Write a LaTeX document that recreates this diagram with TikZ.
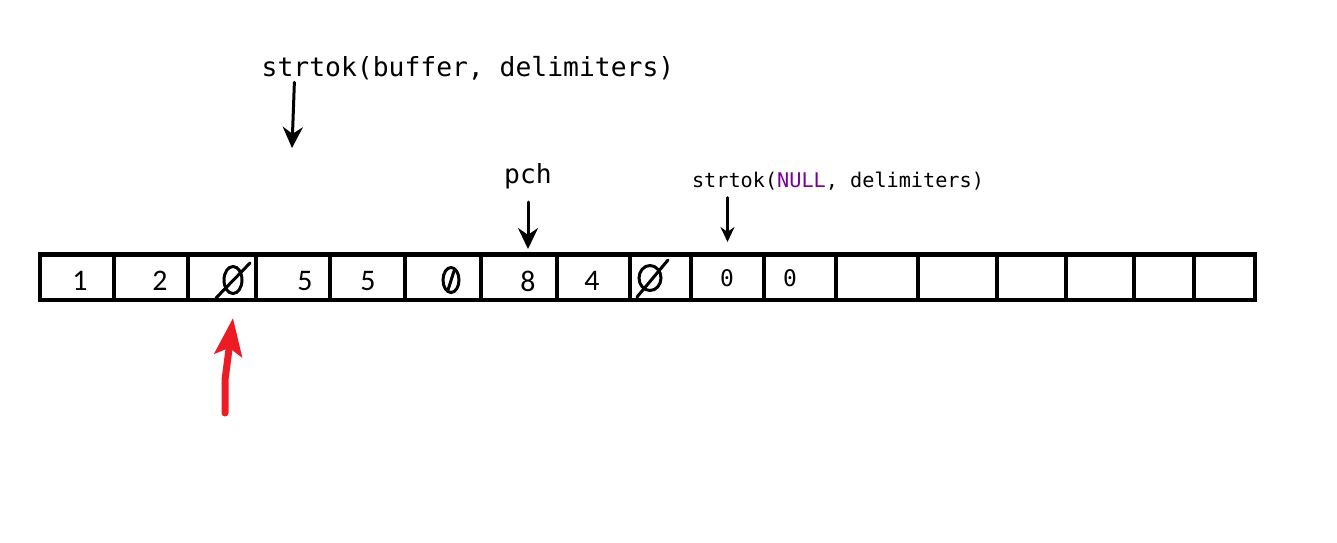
\documentclass[tikz,border=0pt]{standalone}
\usepackage{fontspec}
\usetikzlibrary{arrows.meta,positioning,calc}
\newfontfamily\codefont{DejaVu Sans Mono}
\newfontfamily\digitfont{Carlito}
\definecolor{nullpurple}{RGB}{120,0,150}
\definecolor{paintred}{RGB}{237,28,36}

\begin{document}
\begin{tikzpicture}[x=0.02cm, y=-0.02cm,
    cell/.style={draw, line width=0.09cm, minimum height=0.91cm, inner sep=0pt},
    code/.style={font=\codefont\fontsize{15}{18}\selectfont, inner sep=0pt},
    smallcode/.style={font=\codefont\fontsize{11.5}{14}\selectfont, inner sep=0pt},
    zero/.style={font=\codefont\fontsize{13}{15}\selectfont, inner sep=0pt},
    digit/.style={font=\digitfont\fontsize{17}{20}\selectfont, inner sep=0pt},
    pen/.style={line width=0.06cm, line cap=round, -{Stealth[length=0.42cm, width=0.4cm]}},
    smallpen/.style={line width=0.05cm, line cap=round, -{Stealth[length=0.3cm, width=0.28cm]}},
    redpen/.style={paintred, line width=0.14cm, line cap=round, line join=round, -{Stealth[length=0.75cm, width=0.55cm, inset=0.15cm]}},
    scribble/.style={line width=0.06cm, line cap=round}]

\useasboundingbox (0,0) rectangle (1337,542);

% the buffer
\foreach \a/\b [count=\i] in {40/114,114/188,188/256,256/330,330/405,405/481,481/557,557/630,630/691,691/764,764/836,836/918,918/997,997/1066,1066/1134,1134/1194,1194/1255}
    \node[cell, minimum width={(\b-\a)*0.02cm}] (c\i) at ({(\a+\b)/2},277) {};

\foreach \x/\d [count=\i] in {80/1,160/2,305/5,368/5,528/8,592/4}
    \node[digit] (d\i) at (\x,281) {\d};
\node[zero] (z1) at (727,278) {0};
\node[zero] (z2) at (790,278) {0};

% crossed out zeros
\draw[scribble] (233,280) ellipse [x radius=0.18cm, y radius=0.27cm];
\draw[scribble] (216,298) -- (250,263);
\draw[scribble] (451,280) ellipse [x radius=0.16cm, y radius=0.25cm];
\draw[scribble] (448,290) -- (454,271);
\draw[scribble] (650,278) ellipse [x radius=0.22cm, y radius=0.25cm];
\draw[scribble] (637,297) -- (668,260);

% calls
\node[code] (call1) at (468,68) {strtok(buffer, delimiters)};
\node[code] (pch) at (528,176) {pch};
\node[smallcode] (call2) at (838,181) {strtok(\textcolor{nullpurple}{NULL}, delimiters)};

\coordinate (tok) at (292,148);
\draw[pen] ($(call1.south west)+(33,2)$) -- (tok);
\draw[pen] ([yshift=-0.26cm]pch.south) -- ([yshift=0.06cm]pch.south |- c7.north);
\draw[smallpen] ([yshift=-0.14cm]c10.north |- call2.south) -- ([yshift=0.2cm]c10.north);

% red one
\coordinate (hand) at (225,413);
\draw[redpen] (hand) -- (225,380) -- ([xshift=0.22cm, yshift=-0.32cm]c3.south);
\end{tikzpicture}
\end{document}
